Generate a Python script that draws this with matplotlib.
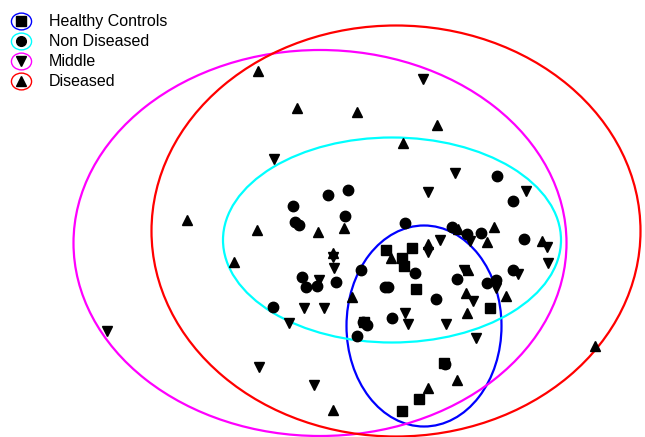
import matplotlib.pyplot as plt
from matplotlib.patches import Ellipse
from matplotlib.lines import Line2D
from matplotlib.path import Path
from matplotlib.transforms import Affine2D

plt.rcParams['font.family'] = ['Liberation Sans', 'DejaVu Sans']

# Grupos y colores de las elipses
grupos = ["Healthy Controls", "Non Diseased", "Middle", "Diseased"]
colores = ["blue", "cyan", "magenta", "red"]
marcadores = ["s", "o", "v", "^"]

# Elipses de confianza: centro x, centro y, ancho, alto
elipse_cx = [424, 392, 320, 396]
elipse_cy = [326, 240, 243, 231]
elipse_w = [155, 338, 493, 489]
elipse_h = [201, 205, 386, 411]

# Puntos de cada grupo
healthy_x = [386, 412, 402, 404, 416, 364, 490, 444, 419, 402]
healthy_y = [250, 248, 258, 266, 289, 322, 308, 363, 399, 411]

nondis_x = [293, 328, 348, 345, 295, 299, 405, 361, 302, 306, 317, 336, 415, 385, 388, 457,
            497, 513, 452, 467, 481, 524, 513, 487, 496, 436, 273, 363, 367, 357, 392, 445]
nondis_y = [206, 195, 190, 216, 222, 225, 223, 270, 277, 287, 286, 282, 273, 287, 287, 279,
            176, 201, 227, 234, 233, 239, 270, 283, 280, 299, 307, 322, 325, 336, 318, 364]

middle_x = [423, 274, 455, 428, 526, 333, 334, 319, 440, 428, 470, 547, 548, 518, 496, 464,
            473, 304, 324, 289, 405, 408, 446, 476, 259, 314, 107]
middle_y = [79, 159, 173, 192, 191, 257, 268, 280, 240, 252, 241, 247, 263, 274, 288, 270,
            301, 308, 308, 323, 313, 324, 324, 338, 367, 385, 331]

diseased_x = [258, 297, 357, 437, 403, 187, 234, 257, 318, 344, 333, 391, 458, 494, 487, 542,
              428, 468, 466, 467, 506, 352, 595, 457, 428, 333]
diseased_y = [71, 108, 112, 125, 143, 220, 262, 230, 232, 228, 253, 258, 229, 227, 242, 241,
              244, 270, 293, 313, 296, 297, 346, 380, 388, 410]

puntos = [(healthy_x, healthy_y), (nondis_x, nondis_y), (middle_x, middle_y), (diseased_x, diseased_y)]
tamanos = [6.5, 7.5, 7.5, 7.5]

fig = plt.figure(figsize=(6.45, 4.37), dpi=100)
ax = fig.add_axes([0, 0, 1, 1])
ax.set_xlim(0, 645)
ax.set_ylim(437, 0)
ax.axis("off")

# Dibujar elipses
for i in range(len(grupos)):
    e = Ellipse((elipse_cx[i], elipse_cy[i]), elipse_w[i], elipse_h[i],
                fill=False, edgecolor=colores[i], linewidth=1.6, zorder=1)
    ax.add_patch(e)

# Dibujar puntos
for i, (xs, ys) in enumerate(puntos):
    ax.plot(xs, ys, linestyle="", marker=marcadores[i], color="black",
            markersize=tamanos[i], zorder=3)

# Leyenda: anillo de color (un poco ovalado) con el marcador negro encima
anillo_path = Path.unit_circle().transformed(Affine2D().scale(1.2, 1.0))
handles = []
for i in range(len(grupos)):
    anillo = Line2D([], [], linestyle="", marker=anillo_path, markerfacecolor="none",
                    markeredgecolor=colores[i], markersize=14.5, markeredgewidth=1.0)
    interior = Line2D([], [], linestyle="", marker=marcadores[i], color="black",
                      markersize=7 if marcadores[i] != "s" else 6.5)
    handles.append((anillo, interior))

ax.legend(handles, grupos, loc="upper left", bbox_to_anchor=(0.0, 0.993), frameon=False,
          fontsize=11.5, handlelength=1.2, handletextpad=1.16, labelspacing=0.31,
          borderaxespad=0.3, borderpad=0.4)

plt.savefig("out.png", dpi=100)
